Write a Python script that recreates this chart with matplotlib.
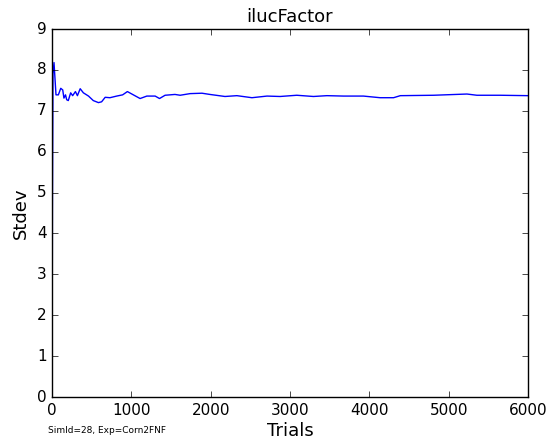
import matplotlib
matplotlib.use("Agg")
import matplotlib.pyplot as plt

# running stdev of ilucFactor vs. trial count
trials = [1, 5, 12, 25, 50, 80, 110, 135, 150, 170, 185, 205, 235, 260, 295, 320,
          355, 395, 460, 520, 585, 625, 670, 730, 815, 890, 950, 1025, 1110, 1195,
          1300, 1355, 1425, 1550, 1615, 1740, 1890, 1990, 2180, 2330, 2520, 2710,
          2875, 3085, 3295, 3465, 3675, 3925, 4135, 4305, 4390, 4810, 5230, 5355,
          5650, 6000]
stdev = [0.0, 4.6, 7.9, 8.18, 7.39, 7.39, 7.55, 7.51, 7.31, 7.39, 7.27, 7.25,
         7.44, 7.37, 7.47, 7.37, 7.54, 7.44, 7.36, 7.25, 7.20, 7.22, 7.33, 7.32,
         7.36, 7.39, 7.47, 7.39, 7.30, 7.36, 7.36, 7.30, 7.38, 7.40, 7.38, 7.42,
         7.43, 7.40, 7.35, 7.37, 7.32, 7.36, 7.35, 7.38, 7.35, 7.37, 7.36, 7.36,
         7.32, 7.32, 7.37, 7.38, 7.41, 7.38, 7.38, 7.37]

plt.style.use("classic")
fig = plt.figure(figsize=(5.57, 4.43), dpi=100, facecolor="white")
ax = fig.add_axes([0.0934, 0.1038, 0.8546, 0.8307])
ax.plot(trials, stdev, color="b", linewidth=1)
ax.set_xlim(0, 6000)
ax.set_ylim(0, 9)
ax.set_title("ilucFactor", fontsize=13)
ax.set_xlabel("Trials", fontsize=13, labelpad=3)
ax.set_ylabel("Stdev", fontsize=13)
ax.tick_params(labelsize=11)
fig.text(0.086, 0.022, "SimId=28, Exp=Corn2FNF", fontsize=6.5)
fig.savefig("out.png", dpi=100, facecolor="white")
